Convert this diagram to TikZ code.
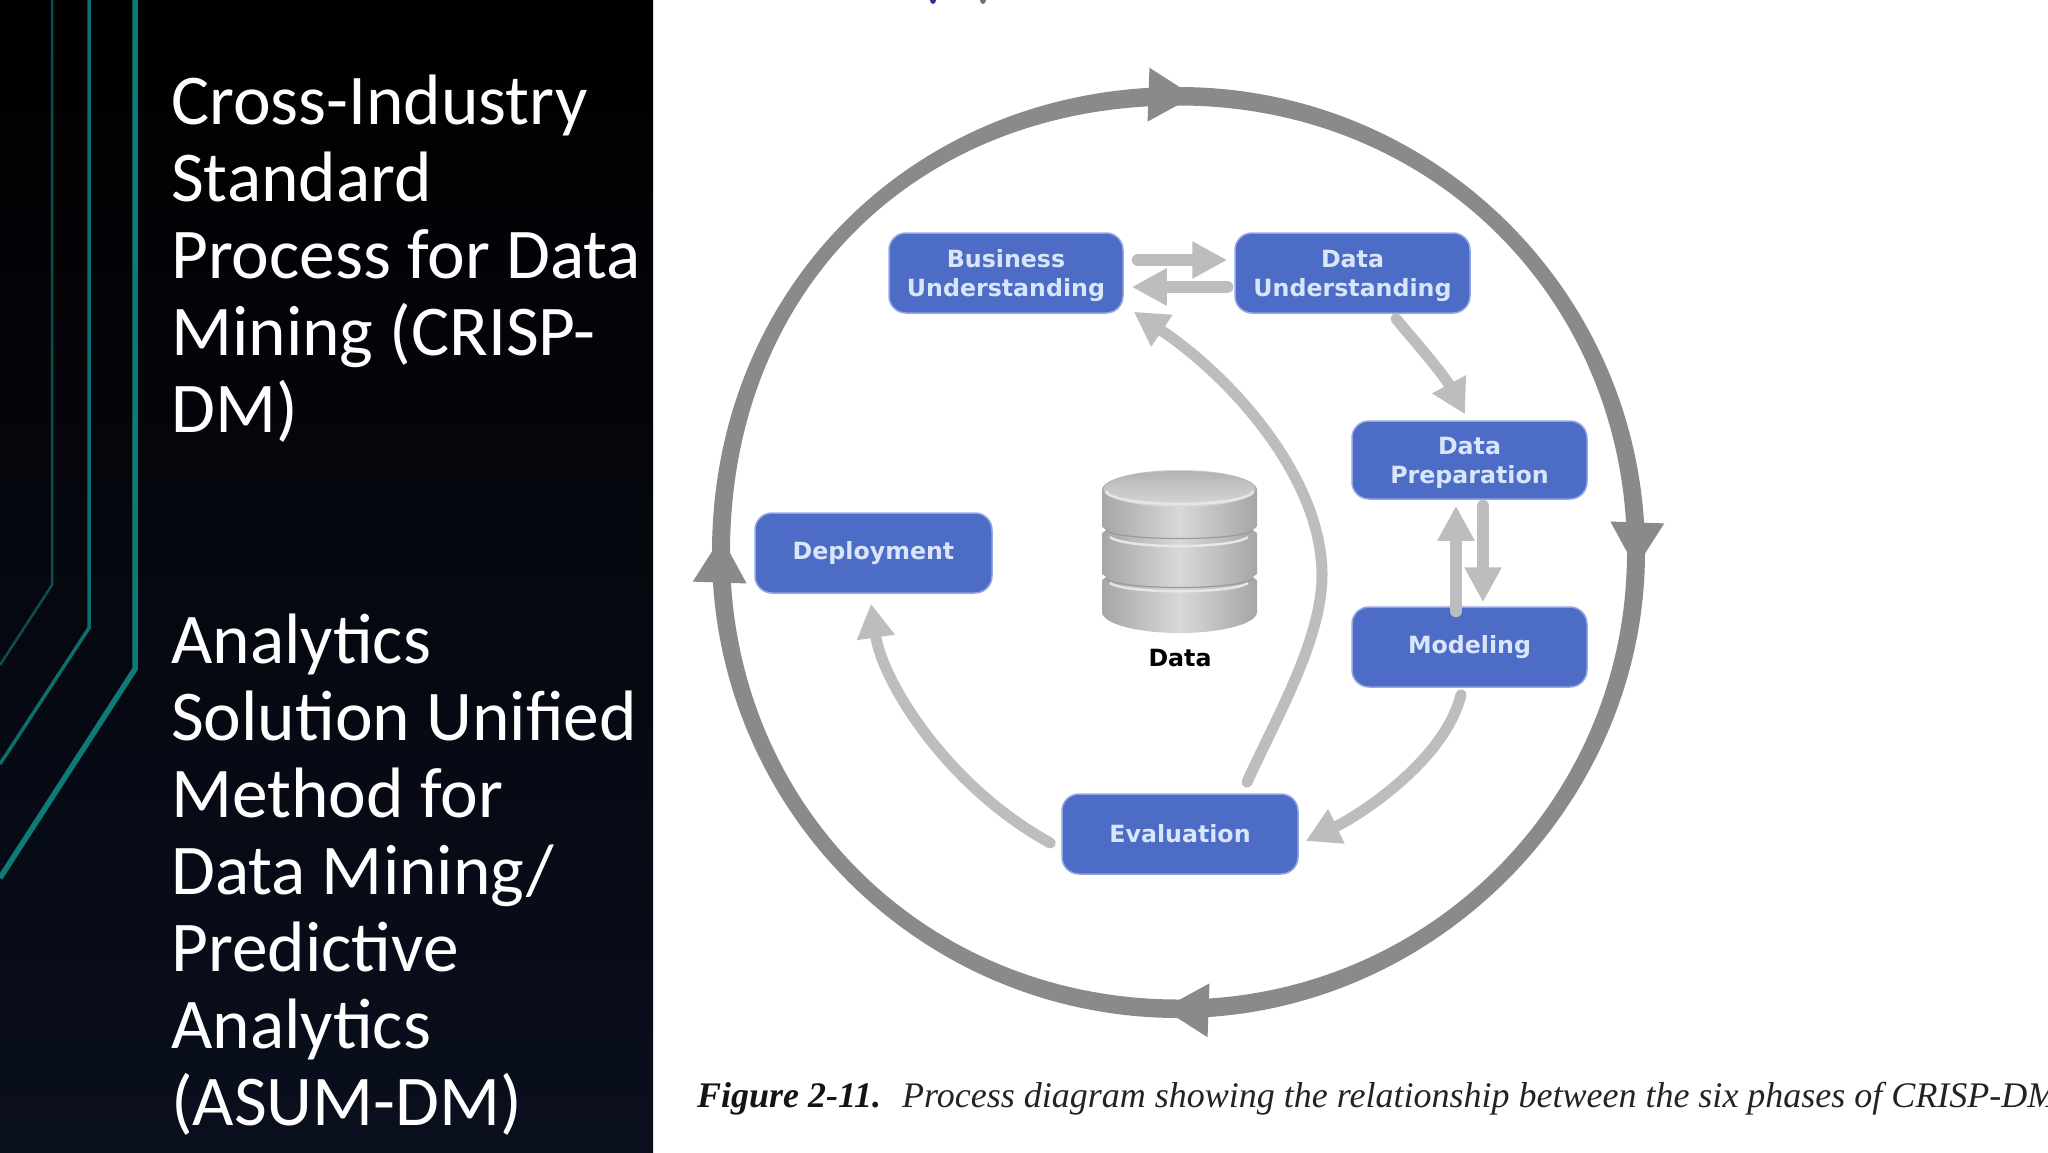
\documentclass[tikz,border=0pt]{standalone}
\usepackage{fontspec}
\usetikzlibrary{arrows.meta,positioning,calc}
\setmainfont{Carlito}
\newfontfamily\boxfont{DejaVu Sans}[BoldFont={DejaVu Sans Bold}]
\newfontfamily\capfont{Liberation Serif}
\definecolor{teala}{HTML}{0B4F50}
\definecolor{tealb}{HTML}{0D6E6E}
\definecolor{tealc}{HTML}{0F7B78}
\definecolor{boxblue}{HTML}{4D6CC6}
\definecolor{boxedge}{HTML}{93A6E2}
\definecolor{boxtext}{HTML}{D9E6FA}
\definecolor{ringgray}{HTML}{8A8A8A}
\definecolor{flowgray}{HTML}{BDBDBD}
\definecolor{DiskEdge}{HTML}{A6A6A6}
\definecolor{DiskMid}{HTML}{D8D8D8}
\definecolor{DiskRim}{HTML}{E6E6E6}
\definecolor{DiskLine}{HTML}{9A9A9A}
\definecolor{panelend}{HTML}{0A0F1E}
\definecolor{markblue}{HTML}{32328C}
\definecolor{markgray}{HTML}{6E6E7D}
\definecolor{figink}{HTML}{141414}
\definecolor{capink}{HTML}{232323}
\newcommand{\lowr}{\rule{0pt}{23pt}}
\tikzset{
  x=1pt,y=1pt,
  phase/.style={draw=boxedge,line width=1.5pt,fill=boxblue,rounded corners=17pt,inner sep=0pt,
    text=boxtext,align=center,anchor=center,
    font=\boxfont\bfseries\fontsize{23.7}{29}\selectfont},
  ring/.style={draw=ringgray,line width=10pt,-{Triangle[length=46pt,width=51pt]}},
  flow/.style={draw=flowgray,line width=12pt,line cap=round,-{Triangle[length=35pt,width=35pt]}},
  curve/.style={draw=flowgray,line width=11pt,line cap=round,-{Triangle[length=34pt,width=36pt]}},
  title/.style={text=white,anchor=north west,inner sep=0pt,align=left,font=\fontsize{71.4}{77}\selectfont},
  disk/.style={left color=DiskEdge,right color=DiskEdge,middle color=DiskMid},
  diskrim/.style={draw=DiskRim,line width=2.5pt},
  diskline/.style={draw=DiskLine,line width=1.2pt},
}
\begin{document}
\begin{tikzpicture}
\useasboundingbox (0,0) rectangle (2048,-1152);
\fill[white] (0,0) rectangle (2048,-1152);
% dark panel
\shade[shading angle=205,top color=black,bottom color=panelend] (0,0) rectangle (653,-1152);
\draw[teala,line width=2.5pt] (52,0) -- (52,-585) -- (0,-665);
\draw[tealb,line width=3.5pt] (89,0) -- (89,-628) -- (0,-764);
\draw[tealc,line width=5.5pt] (135,0) -- (135,-669) -- (0,-878);
\node[title] (t1) at (171,-75) {Cross-Industry\\Standard\\Process for Data\\Mining (CRISP-\\DM)};
\node[title] (t2) at (171,-614) {Analytics\\Solution Unified\\Method for\\Data Mining/\\Predictive\\Analytics\\(ASUM-DM)};
% cut-off text at the top edge
\fill[markblue] (933,0) ellipse [x radius=3,y radius=4];
\fill[markgray] (983,0) ellipse [x radius=3,y radius=4];
% outer ring
\coordinate (cc) at (1178.5,-552.5);
\fill[ringgray,even odd rule]
  (712,-552.5) .. controls (712,-288.1) and (913.5,-87) .. (1178.5,-87)
  .. controls (1436.5,-87) and (1645,-295.1) .. (1645,-552.5)
  .. controls (1645,-805.7) and (1432.3,-1018) .. (1178.5,-1018)
  .. controls (920.5,-1018) and (712,-809.9) .. (712,-552.5) -- cycle
  (730,-552.5) .. controls (730,-290.6) and (915.7,-105.5) .. (1178.5,-105.5)
  .. controls (1431.9,-105.5) and (1627,-299.9) .. (1627,-552.5)
  .. controls (1627,-800.5) and (1427.4,-999.5) .. (1178.5,-999.5)
  .. controls (925.1,-999.5) and (730,-805.1) .. (730,-552.5) -- cycle;
\draw[ring] ([shift={(190:457.5 and 456.5)}]cc) arc[start angle=190,end angle=178,x radius=457.5,y radius=456.5];
\draw[ring] ([shift={(100:457.5 and 456.5)}]cc) arc[start angle=100,end angle=88,x radius=457.5,y radius=456.5];
\draw[ring] ([shift={(10:457.5 and 456.5)}]cc) arc[start angle=10,end angle=-2,x radius=457.5,y radius=456.5];
\draw[ring] ([shift={(-80:457.5 and 456.5)}]cc) arc[start angle=-80,end angle=-92,x radius=457.5,y radius=456.5];
% phases
\node[phase,minimum width=234pt,minimum height=80pt] (bu) at (1006,-273) {\lowr Business\\Understanding};
\node[phase,minimum width=235pt,minimum height=80pt] (du) at (1352.5,-273) {\lowr Data\\Understanding};
\node[phase,minimum width=235pt,minimum height=78pt] (dp) at (1469.5,-460) {\lowr Data\\Preparation};
\node[phase,minimum width=235pt,minimum height=80pt] (mo) at (1469.5,-647) {Modeling};
\node[phase,minimum width=236pt,minimum height=80pt] (ev) at (1180,-834) {Evaluation};
\node[phase,minimum width=237pt,minimum height=80pt] (de) at (873.5,-553) {Deployment};
% connectors
\draw[flow] ($(bu.east)+(14,13)$) -- ($(du.west)+(-7,13)$);
\draw[flow] ($(du.west)+(-7,-14)$) -- ($(bu.east)+(8,-14)$);
\draw[flow] ($(mo.north)+(-13.5,-5)$) -- ($(dp.south)+(-13.5,-6)$);
\draw[flow] ($(dp.south)+(13.5,-6)$) -- ($(mo.north)+(13.5,4)$);
\draw[curve] ($(du.south)+(43.5,-5)$) .. controls (1418,-345) and (1444,-375) .. ($(dp.north)+(-4.5,6)$);
\draw[curve] ($(mo.south)+(-8.5,-7)$) .. controls (1445,-760) and (1360,-815) .. ($(ev.east)+(7,-7)$);
\draw[curve] ($(ev.west)+(-11,-9)$) .. controls (945,-785) and (882,-680) .. ($(de.south)+(-2.5,-10)$);
\draw[curve] ($(ev.north)+(67,11)$) .. controls (1275,-720) and (1322,-640) .. (1322,-575) .. controls (1322,-480) and (1235,-380) .. ($(bu.south east)+(10,2)$);
% database
\path[disk] (1102,-580) -- (1102,-612) arc[start angle=180,end angle=360,x radius=77.5,y radius=21] -- (1257,-580) arc[start angle=0,end angle=180,x radius=77.5,y radius=12] -- cycle;
\path[disk] (1102,-533) -- (1102,-575) arc[start angle=180,end angle=360,x radius=77.5,y radius=13] -- (1257,-533) arc[start angle=0,end angle=180,x radius=77.5,y radius=12] -- cycle;
\draw[diskline] (1106,-578) arc[start angle=183,end angle=357,x radius=73.5,y radius=10];
\draw[diskrim] (1110,-583) arc[start angle=190,end angle=350,x radius=70,y radius=10];
\path[disk] (1102,-490) -- (1102,-526) arc[start angle=180,end angle=360,x radius=77.5,y radius=12] -- (1257,-490) arc[start angle=0,end angle=180,x radius=77.5,y radius=20] -- cycle;
\draw[diskline] (1106,-530) arc[start angle=183,end angle=357,x radius=73.5,y radius=9];
\draw[diskrim] (1110,-537) arc[start angle=190,end angle=350,x radius=70,y radius=11];
\path[top color=DiskEdge!85!white,bottom color=DiskMid] (1179.5,-489) ellipse [x radius=76,y radius=18];
\draw[diskrim] (1106,-491) arc[start angle=180,end angle=360,x radius=73.5,y radius=13];
\fill[white] (1099,-525) -- (1106,-530) -- (1099,-535) -- cycle;
\fill[white] (1099,-572) -- (1106,-577) -- (1099,-582) -- cycle;
\fill[white] (1260,-525) -- (1253,-530) -- (1260,-535) -- cycle;
\fill[white] (1260,-572) -- (1253,-577) -- (1260,-582) -- cycle;
\node[font=\boxfont\bfseries\fontsize{23.7}{27}\selectfont,text=black,inner sep=0pt] (data) at (1180,-658) {Data};
% caption
\begin{scope}
\clip (653,-1152) rectangle (2048,0);
\node[anchor=base west,inner sep=0pt,font=\capfont\bfseries\itshape\fontsize{36}{38}\selectfont,text=figink] (fig) at (697,-1107) {Figure 2-11.};
\node[anchor=base west,inner sep=0pt,font=\capfont\itshape\fontsize{36}{38}\selectfont,text=capink] (cap) at (902,-1107) {Process diagram showing the relationship between the six phases of CRISP-DM};
\end{scope}
\end{tikzpicture}
\end{document}
